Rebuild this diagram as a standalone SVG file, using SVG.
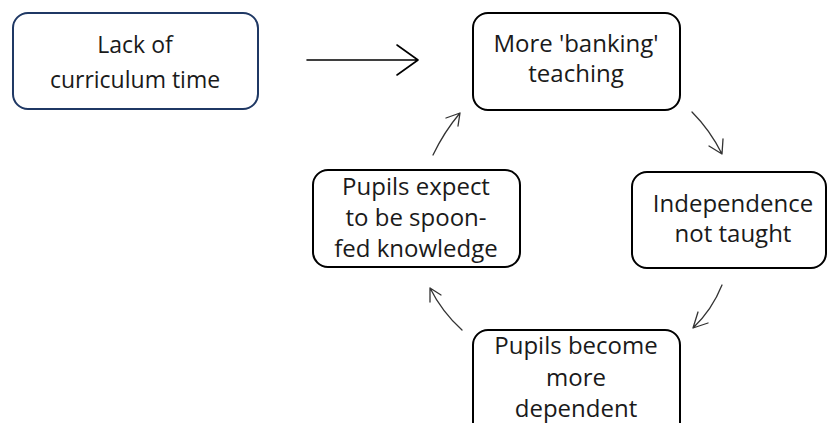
<svg xmlns="http://www.w3.org/2000/svg" width="827" height="423" viewBox="0 0 827 423">
<style>
.box{fill:#fff;stroke:#000;stroke-width:2}
.blue{stroke:#1f3864}
text{font-family:"Open Sans","Noto Sans","Liberation Sans",sans-serif;fill:#1a1a1a;text-anchor:middle}
.t22{font-size:23px}
.t24{font-size:24px}
.c{fill:none;stroke:#333;stroke-width:1.3;stroke-linecap:round;stroke-linejoin:round}
.m{fill:none;stroke:#000;stroke-width:1.6;stroke-linecap:round;stroke-linejoin:round}
</style>
<rect width="827" height="423" fill="#fff"/>
<g id="n1">
<rect class="box blue" x="13" y="13" width="245" height="96" rx="15"/>
<text class="t22" x="135" y="53">Lack of</text>
<text class="t22" x="135" y="88">curriculum time</text>
</g>
<g id="n2">
<rect class="box" x="473" y="13" width="207" height="97" rx="15"/>
<text class="t24" x="576" y="52">More 'banking'</text>
<text class="t24" x="576" y="82">teaching</text>
</g>
<g id="n3">
<rect class="box" x="632" y="172" width="194" height="96" rx="15"/>
<text class="t24" x="733" y="212">Independence</text>
<text class="t24" x="733" y="242">not taught</text>
</g>
<g id="n4">
<rect class="box" x="473" y="330" width="207" height="110" rx="15"/>
<text class="t24" x="576" y="354">Pupils become</text>
<text class="t24" x="576" y="386">more</text>
<text class="t24" x="576" y="417">dependent</text>
</g>
<g id="n5">
<rect class="box" x="313" y="170" width="207" height="97" rx="15"/>
<text class="t24" x="416" y="195">Pupils expect</text>
<text class="t24" x="416" y="226">to be spoon-</text>
<text class="t24" x="416" y="257">fed knowledge</text>
</g>
<g id="connectors">
<path class="m" d="M307 60 H418 M397 45 L418 60 L397 75"/>
<path class="c" d="M692 112 Q710 130 722 154 M709 146 L722 154 L723 139"/>
<path class="c" d="M722 285 Q712 310 693 328 M698 312 L693 328 L708 323"/>
<path class="c" d="M462 330 Q442 312 430 288 M430 302 L430 288 L441 295"/>
<path class="c" d="M433 155 Q444 132 460 113 M446 118 L460 113 L458 126"/>
</g>
</svg>
